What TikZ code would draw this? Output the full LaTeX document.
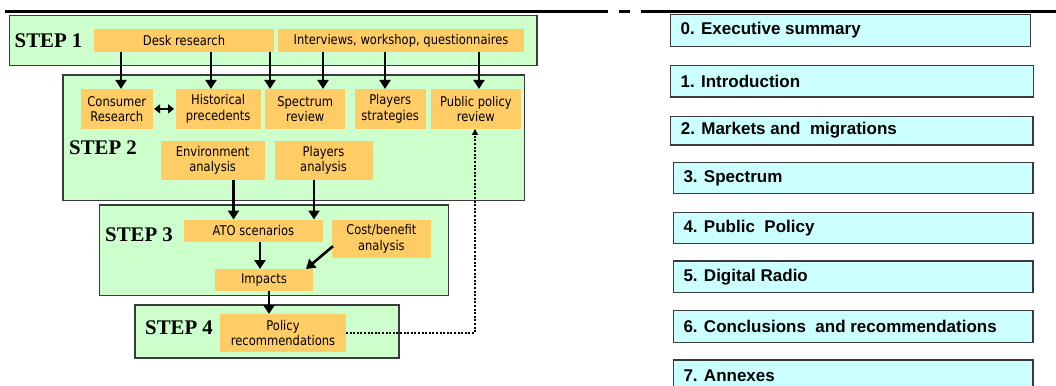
\documentclass[tikz,border=0pt]{standalone}
\usepackage{fontspec}
\setmainfont{Liberation Serif}
\newfontfamily\boxfont[FakeStretch=0.86]{DejaVu Sans}
\newfontfamily\tocfont{Liberation Sans}
\usetikzlibrary{arrows.meta,calc}

\definecolor{stepgreen}{HTML}{CCFFCC}
\definecolor{taskorange}{HTML}{FFCC66}
\definecolor{toccyan}{HTML}{CCFFFF}
\definecolor{edgegray}{HTML}{3A3A3A}

\tikzset{
  stepframe/.style={draw=edgegray, line width=1.3pt, fill=stepgreen},
  steplabel/.style={anchor=west, inner sep=0pt, font=\bfseries\fontsize{20.8}{24}\selectfont},
  task/.style={fill=taskorange, inner sep=0pt, outer sep=0pt, align=center,
    anchor=north west, font=\boxfont\fontsize{13.4}{15.5}\selectfont},
  tocbox/.style={draw=edgegray, line width=1.3pt, fill=toccyan, inner sep=0pt,
    outer sep=0pt, anchor=north west, minimum width=360pt, minimum height=31.5pt},
  toctext/.style={anchor=west, inner sep=0pt, font=\tocfont\bfseries\fontsize{17}{20}\selectfont},
  arr/.style={line width=2.6pt, -{Triangle[length=9pt,width=11pt]}},
  dblarr/.style={line width=2.2pt, {Triangle[length=6pt,width=9pt]}-{Triangle[length=6pt,width=9pt]}},
  dotarr/.style={line width=1.8pt, dash pattern=on 2pt off 1.6pt, -{Triangle[length=6pt,width=6pt]}},
  rule/.style={line width=2.3pt}
}

\begin{document}
\begin{tikzpicture}[x=1pt,y=-1pt]
\useasboundingbox (0,0) rectangle (1056,385);
\clip (0,0) rectangle (1056,385);

% header rule
\draw[rule] (5,11.4) -- (608,11.4);
\draw[rule] (619,11.4) -- (630,11.4);
\draw[rule] (641,11.4) -- (1056,11.4);

% step frames
\draw[stepframe] (9.3,15.5) rectangle (537,65.4);
\draw[stepframe] (63,75) rectangle (524.5,200.2);
\draw[stepframe] (99.5,205) rectangle (448.4,295.7);
\draw[stepframe] (135,305) rectangle (399,358);

\node[steplabel] (s1) at (14.5,41) {STEP 1};
\node[steplabel] (s2) at (69,148) {STEP 2};
\node[steplabel] (s3) at (105,235) {STEP 3};
\node[steplabel] (s4) at (145,327.5) {STEP 4};

% step 1 tasks
\node[task, minimum width=180pt, minimum height=22.7pt] (desk) at (94,29) {Desk research};
\node[task, minimum width=246pt, minimum height=22.7pt] (intv) at (278,29) {Interviews, workshop, questionnaires};

% step 2 tasks
\node[task, minimum width=71.6pt, minimum height=40pt] (cons) at (81,88.9) {Consumer\\Research};
\node[task, minimum width=85.1pt, minimum height=40pt] (hist) at (175.6,88.9) {Historical\\precedents};
\node[task, minimum width=80.4pt, minimum height=40pt] (spec) at (265,88.9) {Spectrum\\review};
\node[task, minimum width=71pt, minimum height=40pt] (plys) at (354.7,88.9) {Players\\strategies};
\node[task, minimum width=89.7pt, minimum height=40pt] (pubp) at (431,88.9) {Public policy\\review};
\node[task, minimum width=103.7pt, minimum height=38.9pt] (env) at (160.8,140.7) {Environment\\analysis};
\node[task, minimum width=98.1pt, minimum height=38.9pt] (plya) at (274.5,140.7) {Players\\analysis};

% step 3 tasks
\node[task, minimum width=138.7pt, minimum height=22.1pt] (ato) at (184,219.5) {ATO scenarios};
\node[task, minimum width=98.2pt, minimum height=38.3pt] (cost) at (332.3,219.5) {Cost/benefit\\analysis};
\node[task, minimum width=98pt, minimum height=21.7pt] (imp) at (215,269) {Impacts};

% step 4 task
\node[task, minimum width=126pt, minimum height=37.7pt] (pol) at (220,314) {Policy\\recommendations};

% arrow columns
\coordinate (xa) at (121,0);
\coordinate (xb) at (211,0);
\coordinate (xc) at (270,0);
\coordinate (xd) at (323,0);
\coordinate (xe) at (385,0);
\coordinate (xf) at (479,0);
\coordinate (xg) at (233.5,0);
\coordinate (xh) at (314,0);
\coordinate (xi) at (260,0);
\coordinate (xj) at (306,0);
\coordinate (xk) at (269,0);
\coordinate (xl) at (475,0);

\draw[arr] (desk.south -| xa) -- (cons.north -| xa);
\draw[arr] (desk.south -| xb) -- (hist.north -| xb);
\draw[arr] (desk.south -| xc) -- (spec.north -| xc);
\draw[arr] (intv.south -| xd) -- (spec.north -| xd);
\draw[arr] (intv.south -| xe) -- (plys.north -| xe);
\draw[arr] (intv.south -| xf) -- (pubp.north -| xf);
\draw[dblarr] ($(cons.east)+(1.5,0)$) -- ($(hist.west)+(-1.5,0)$);

\draw[arr] (env.south -| xg) -- (ato.north -| xg);
\draw[arr] (plya.south -| xh) -- (ato.north -| xh);
\draw[arr] (ato.south -| xi) -- (imp.north -| xi);
\draw[arr] ($(cost.west)+(0.7,7.5)$) -- (imp.north -| xj);
\draw[arr] (imp.south -| xk) -- (pol.north -| xk);

\draw[dotarr] (pol.east) -| (pubp.south -| xl);

% report outline
\node[tocbox] (c0) at (670.4,14.7) {};
\node[tocbox, minimum width=363pt] (c1) at (670.4,65.6) {};
\node[tocbox, minimum width=362.3pt, minimum height=28.8pt] (c2) at (670.7,116.2) {};
\node[tocbox, minimum width=359.7pt] (c3) at (673.3,162.3) {};
\node[tocbox, minimum width=359.7pt] (c4) at (673.3,212.3) {};
\node[tocbox, minimum width=359.7pt] (c5) at (673.3,261) {};
\node[tocbox, minimum width=359.7pt] (c6) at (673.3,310.7) {};
\node[tocbox, minimum width=359.7pt] (c7) at (673.3,360) {};

\node[toctext] at ($(c0.west)+(10,0)$) {0. Executive summary};
\node[toctext] at ($(c1.west)+(10,0)$) {1. Introduction};
\node[toctext] at ($(c2.west)+(10,0)$) {2. Markets and\ \ migrations};
\node[toctext] at ($(c3.west)+(10,0)$) {3. Spectrum};
\node[toctext] at ($(c4.west)+(10,0)$) {4. Public\ \ Policy};
\node[toctext] at ($(c5.west)+(10,0)$) {5. Digital Radio};
\node[toctext] at ($(c6.west)+(10,0)$) {6. Conclusions\ \ and recommendations};
\node[toctext] at ($(c7.west)+(10,0)$) {7. Annexes};
\end{tikzpicture}
\end{document}
